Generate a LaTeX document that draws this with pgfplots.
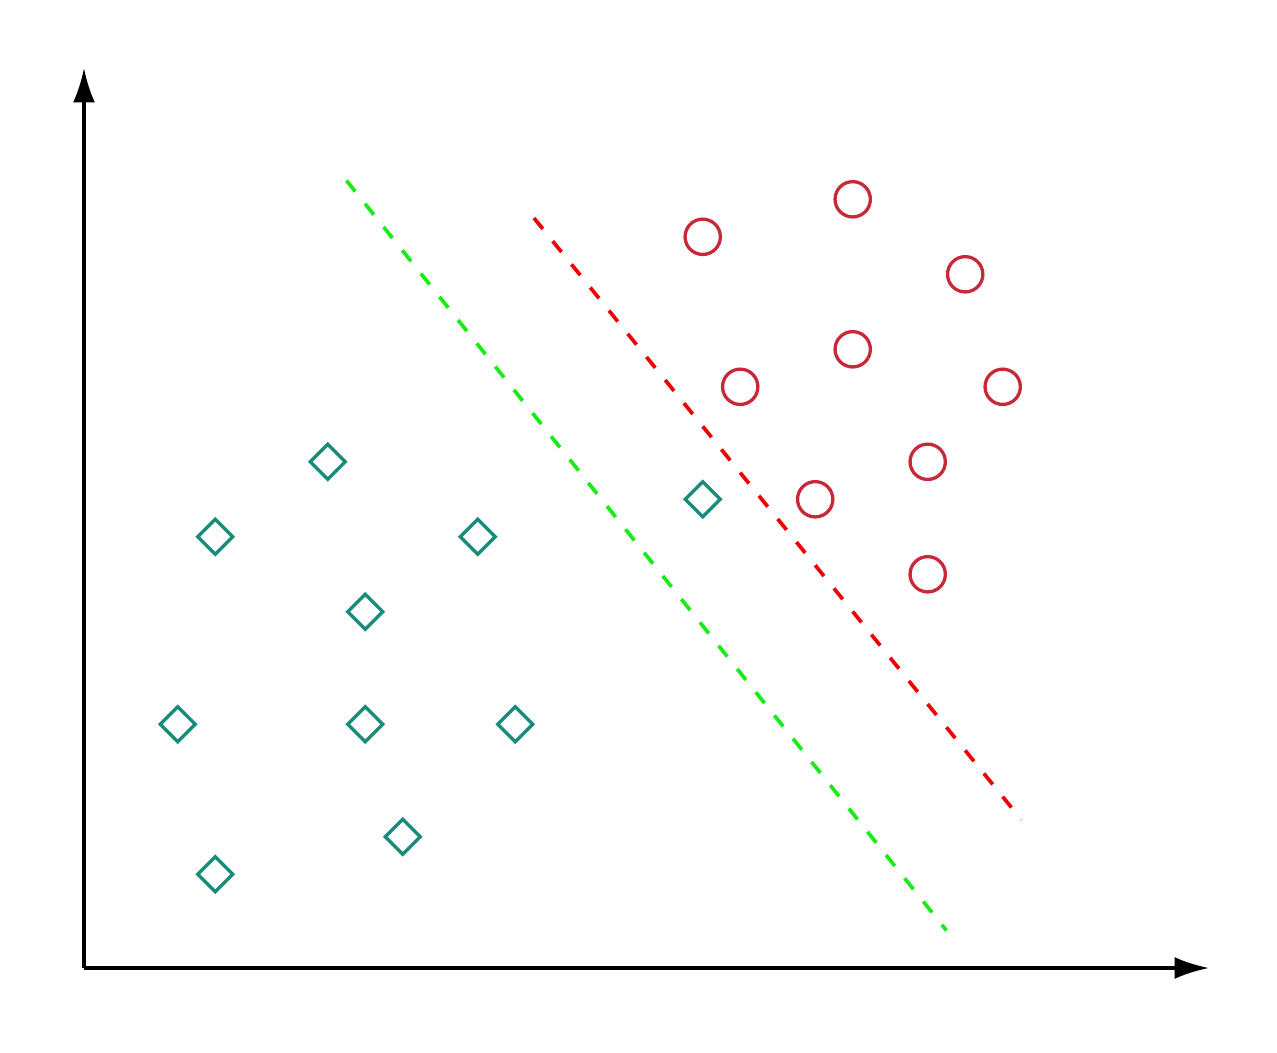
\documentclass[border=0pt]{standalone}
\usepackage{pgfplots}
\pgfplotsset{compat=1.18}
\usetikzlibrary{arrows.meta}
\definecolor{teal1}{RGB}{24,140,120}
\definecolor{red1}{RGB}{200,40,55}
\definecolor{green1}{RGB}{25,235,25}
\definecolor{red2}{RGB}{240,0,0}
\begin{document}
\begin{tikzpicture}
\begin{axis}[
  x=0.25cm, y=0.25cm,
  xmin=0, xmax=60, ymin=0, ymax=48,
  enlargelimits=false,
  axis lines=left,
  ticks=none,
  clip=false,
  every outer x axis line/.append style={line width=1.2pt, -{Latex[length=13pt,width=8.3pt]}},
  every outer y axis line/.append style={line width=1.2pt, -{Latex[length=13pt,width=8.3pt]}},
]
\path (axis cs:-4.48,-4.48) rectangle (axis cs:63.63,51.63);
\addplot[only marks, mark=square, mark size=4.7pt, mark options={rotate=45, line width=1.25pt, draw=teal1}]
  coordinates {(13,27) (7,23) (21,23) (15,19) (5,13) (15,13) (23,13) (17,7) (7,5) (33,25)};
\addplot[only marks, mark=o, mark size=6.7pt, mark options={line width=1.25pt, draw=red1}]
  coordinates {(41,41) (33,39) (47,37) (41,33) (35,31) (49,31) (45,27) (39,25) (45,21)};
\addplot[green1, line width=1.4pt, dash pattern=on 5.3pt off 6pt, no marks] coordinates {(14,42) (46,2)};
\addplot[red2, line width=1.4pt, dash pattern=on 5.3pt off 6pt, no marks] coordinates {(24,40) (50,7.9)};
\end{axis}
\end{tikzpicture}
\end{document}
